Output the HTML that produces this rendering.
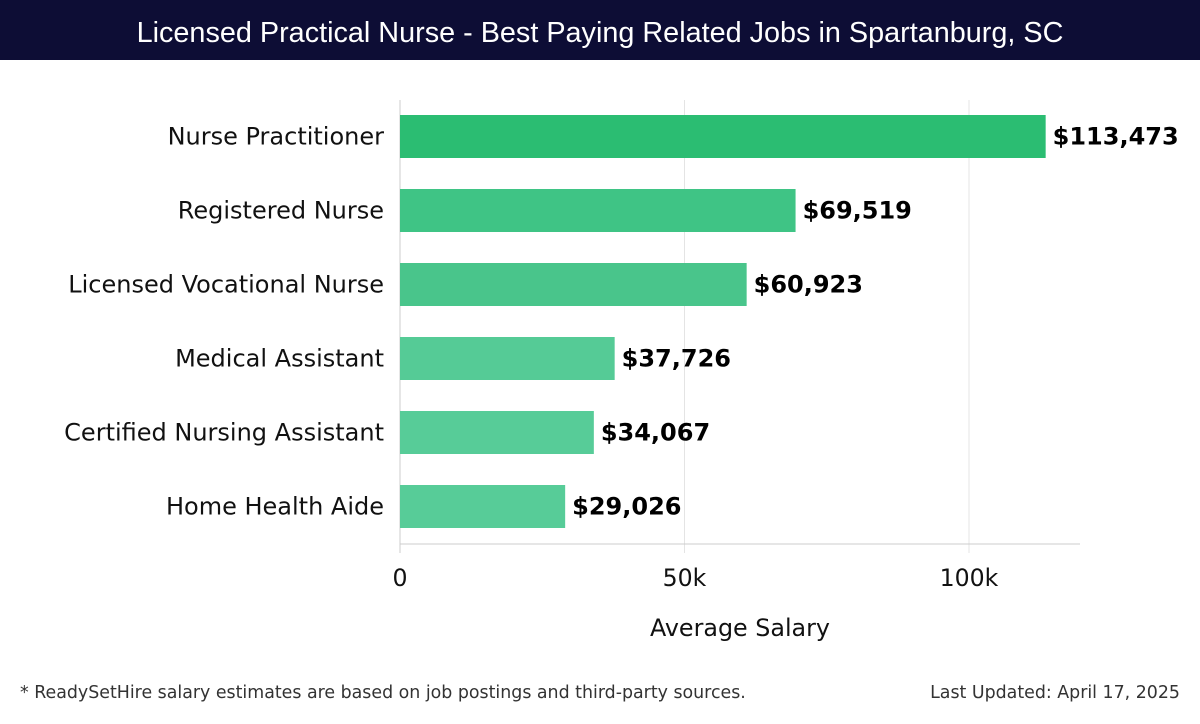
<!DOCTYPE html>
<html><head><meta charset="utf-8"><style>
body{margin:0;width:1200px;height:720px;background:#fff;font-family:"DejaVu Sans","Liberation Sans",sans-serif;overflow:hidden}
</style></head><body>
<svg width="1200" height="720" xmlns="http://www.w3.org/2000/svg">
<rect x="0" y="0" width="1200" height="60" fill="#0d0d35"/>
<text x="600" y="42" text-anchor="middle" fill="#fff" font-size="28.8" font-family="Liberation Sans, sans-serif">Licensed Practical Nurse - Best Paying Related Jobs in Spartanburg, SC</text>
<g id="plot"></g>
<text x="740" y="636" text-anchor="middle" font-size="23.8" fill="#111">Average Salary</text>
<text x="20" y="698" font-size="17.4" fill="#333">* ReadySetHire salary estimates are based on job postings and third-party sources.</text>
<text x="1180" y="698" text-anchor="end" font-size="17.4" fill="#333">Last Updated: April 17, 2025</text>
</svg>
<script>
const categories=["Nurse Practitioner","Registered Nurse","Licensed Vocational Nurse","Medical Assistant","Certified Nursing Assistant","Home Health Aide"];
const values=[113473,69519,60923,37726,34067,29026];
const tickValues=[0,50000,100000];
const tickLabels=["0","50k","100k"];
const colors=["#2bbd72","#3fc485","#49c58b","#55cb96","#57cc98","#57cc98"];
const NS="http://www.w3.org/2000/svg";
const plotG=document.getElementById('plot');
const X0=400,PXPER=569/100000,PTOP=100,PITCH=74,BH=43;
const xs=v=>X0+v*PXPER;
function mk(t,a){const e=document.createElementNS(NS,t);for(const k in a)e.setAttribute(k,a[k]);plotG.appendChild(e);return e;}
tickValues.forEach((v,i)=>{
 const gl=mk('line',{x1:xs(v),x2:xs(v),y1:PTOP,y2:553,stroke:'#e4e4e4','stroke-width':1});
 
 
 const t=mk('text',{x:xs(v),y:586,'text-anchor':'middle','font-size':23.6,fill:'#111'});
 t.textContent=tickLabels[i];
 
 
});
const ax=mk('line',{x1:X0,x2:1080,y1:544,y2:544,stroke:'#ccc','stroke-width':1});


const ay=mk('line',{x1:X0,x2:X0,y1:PTOP,y2:553,stroke:'#ccc','stroke-width':1});


categories.forEach((c,i)=>{
 const y=115+i*PITCH;
 const r=mk('rect',{x:X0,y:y,width:xs(values[i])-X0,height:BH,fill:colors[i]});
 
 
 const l=mk('text',{x:384,y:y+BH/2+8,'text-anchor':'end','font-size':24,fill:'#111'});
 l.textContent=c;
 
 
 const v=mk('text',{x:xs(values[i])+7,y:y+BH/2+8,'font-size':24,'font-weight':'bold',fill:'#000'});
 v.textContent='$'+values[i].toLocaleString('en-US');
 
 
});
</script>
</body></html>
